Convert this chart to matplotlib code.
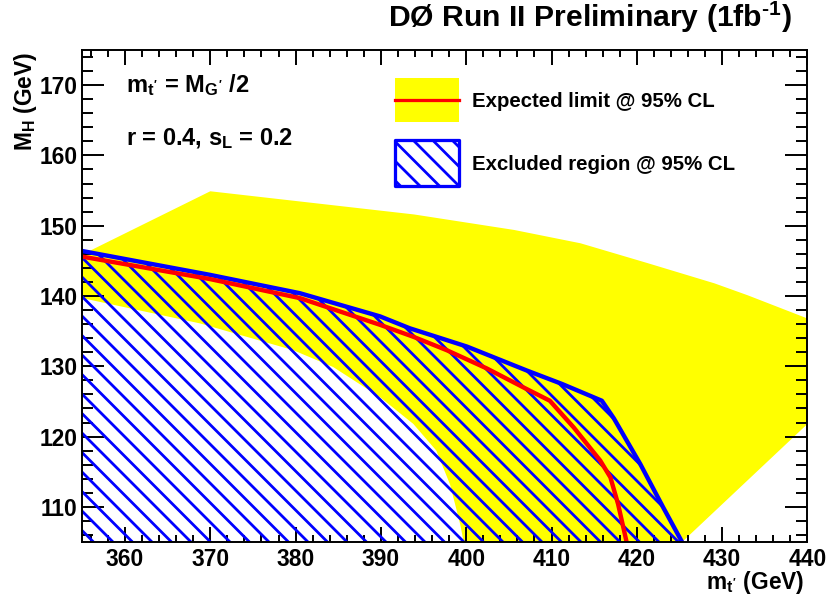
import numpy as np
import matplotlib
matplotlib.use("Agg")
import matplotlib.pyplot as plt
from matplotlib.patches import Rectangle
from matplotlib.lines import Line2D
from matplotlib.ticker import MultipleLocator

plt.rcParams["font.family"] = ["Liberation Sans", "DejaVu Sans"]
plt.rcParams["font.weight"] = "bold"
plt.rcParams["mathtext.fontset"] = "custom"
plt.rcParams["mathtext.rm"] = "Liberation Sans:bold"
plt.rcParams["mathtext.it"] = "Liberation Sans:bold"
plt.rcParams["mathtext.bf"] = "Liberation Sans:bold"
plt.rcParams["hatch.linewidth"] = 1.7

# expected-limit band (yellow): upper and lower edges
band_up_m = [355, 370, 393.9, 405.6, 413.4, 421.2, 429.1, 433.0, 440]
band_up_M = [145.9, 154.9, 151.6, 149.4, 147.5, 144.7, 141.8, 140.1, 136.8]
band_lo_m = [355, 368.8, 379.7, 384.4, 389.9, 393.8, 396.5, 398.1, 399.3, 399.7, 425.3, 440]
band_lo_M = [139.7, 136.1, 132.3, 129.9, 125.6, 121.8, 118.0, 113.2, 107.5, 105.0, 105.0, 121.8]

# expected limit (red line)
exp_m = [355, 370, 380.5, 389.9, 393.8, 397.7, 402.4, 406.7, 409.8, 412.6, 415.7, 416.9, 417.8, 418.8]
exp_M = [145.6, 142.4, 139.7, 135.9, 134.2, 132.3, 129.7, 127.0, 125.1, 121.3, 116.6, 114.2, 110.4, 105.0]

# observed excluded region boundary (blue)
excl_m = [355, 370, 380.5, 389.9, 393.4, 396.5, 400.1, 403.6, 407.1, 411.2, 415.9, 417.3, 420.4, 423.1, 425.3]
excl_M = [146.4, 143.0, 140.4, 137.1, 135.4, 134.2, 132.8, 131.1, 129.4, 127.5, 125.1, 122.6, 116.1, 109.9, 105.0]

XMIN, XMAX = 355, 440
YMIN, YMAX = 105, 175

DPI = 117
fig = plt.figure(figsize=(828.01 / DPI, 598.01 / DPI), dpi=DPI)
ax = fig.add_axes([0.0994, 0.0936, 0.8758, 0.8228])

# yellow band
band_x = np.concatenate([band_up_m, band_lo_m[::-1]])
band_y = np.concatenate([band_up_M, band_lo_M[::-1]])
ax.fill(band_x, band_y, color="#ffff00", lw=0, zorder=1)

# hatched excluded region, closed along the axis floor
hx = excl_m + [XMIN]
hy = excl_M + [YMIN]
ax.fill(hx, hy, facecolor="none", edgecolor="#0000ff", lw=0, hatch="\\\\", zorder=2)
ax.plot(excl_m, excl_M, color="#0000ff", lw=2.7, zorder=3)

ax.plot(exp_m, exp_M, color="#ff0000", lw=2.7, zorder=4)

ax.set_xlim(XMIN, XMAX)
ax.set_ylim(YMIN, YMAX)
ax.xaxis.set_major_locator(MultipleLocator(10))
ax.xaxis.set_minor_locator(MultipleLocator(2))
ax.yaxis.set_major_locator(MultipleLocator(10))
ax.yaxis.set_minor_locator(MultipleLocator(2))
ax.tick_params(which="both", direction="in", top=True, right=True, labelsize=14, width=1.2)
ax.tick_params(axis="x", which="major", length=9.2, pad=3.5)
ax.tick_params(axis="x", which="minor", length=4.6)
ax.tick_params(axis="y", which="major", length=13.4, pad=3)
ax.tick_params(axis="y", which="minor", length=6.8)
for sp in ax.spines.values():
    sp.set_linewidth(1.2)
    sp.set_zorder(10)

ax.set_xlabel("m$_{t'}$ (GeV)", fontsize=14, fontweight="bold")
ax.xaxis.set_label_coords(0.9952, -0.0955)
ax.xaxis.label.set_ha("right")
ax.xaxis.label.set_va("baseline")
ax.set_ylabel("M$_{H}$ (GeV)", fontsize=14, fontweight="bold")
ax.yaxis.set_label_coords(-0.0694, 0.9966)
ax.yaxis.label.set_ha("right")
ax.yaxis.label.set_va("baseline")

ax.text(0.0603, 0.9152, "m$_{t'}$ = M$_{G'}$ /2", transform=ax.transAxes,
        fontsize=14.5, fontweight="bold", va="baseline")
ax.text(0.0603, 0.8069, "r = 0.4, s$_{L}$ = 0.2", transform=ax.transAxes,
        fontsize=14.5, fontweight="bold", va="baseline")

# legend, drawn by hand in axes coordinates
ax.add_patch(Rectangle((0.431, 0.854), 0.0885, 0.0885, transform=ax.transAxes,
                       facecolor="#ffff00", lw=0, zorder=5))
ax.add_line(Line2D([0.431, 0.5195], [0.898, 0.898], transform=ax.transAxes,
                   color="#ff0000", lw=2, zorder=6))
ax.add_patch(Rectangle((0.431, 0.7236), 0.0885, 0.0934, transform=ax.transAxes,
                       facecolor="white", edgecolor="#0000ff", lw=2, hatch="\\\\",
                       joinstyle="round", zorder=5))
ax.text(0.538, 0.8848, "Expected limit @ 95% CL", transform=ax.transAxes,
        fontsize=12.5, fontweight="bold", va="baseline")
ax.text(0.538, 0.756, "Excluded region @ 95% CL", transform=ax.transAxes,
        fontsize=12.5, fontweight="bold", va="baseline")

fig.text(0.9565, 1 - 27 / 598, "DØ Run II Preliminary (1fb$^{\u20101}$)",
         ha="right", va="baseline", fontsize=18.5, fontweight="bold")

fig.savefig("out.png", dpi=DPI)
